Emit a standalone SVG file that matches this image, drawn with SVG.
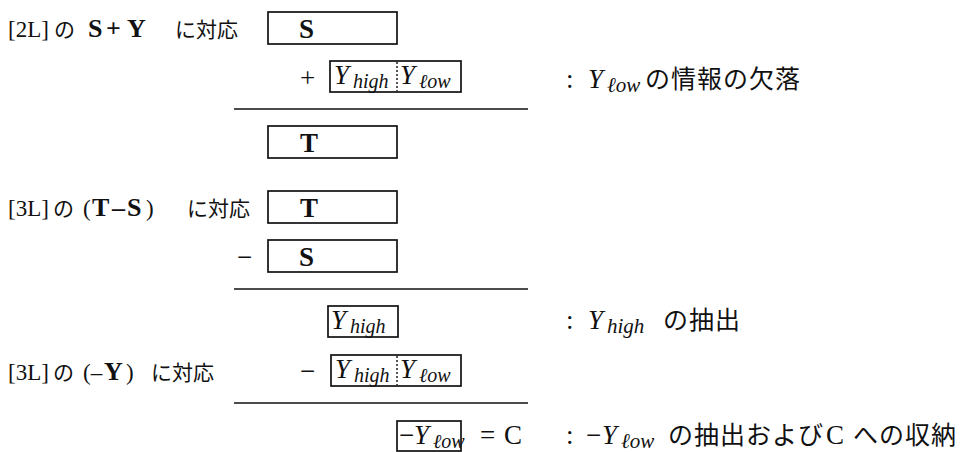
<svg xmlns="http://www.w3.org/2000/svg" width="961" height="452" viewBox="0 0 961 452">
<style>
.bg{fill:#ffffff}
.box{fill:none;stroke:#111;stroke-width:1.7}
.div{stroke:#111;stroke-width:1.4;stroke-dasharray:2,2}
.rule{stroke:#111;stroke-width:1.7}
.jp{font-family:"Noto Sans CJK JP",sans-serif;font-size:21px;fill:#111}
.jpr{font-family:"Noto Sans CJK JP",sans-serif;font-size:25px;letter-spacing:1px;fill:#111}
.rm{font-family:"Liberation Serif","DejaVu Serif",serif;font-size:23px;fill:#111}
.bd{font-family:"Liberation Serif","DejaVu Serif",serif;font-size:26px;font-weight:bold;fill:#111}
.bx{font-family:"Liberation Serif","DejaVu Serif",serif;font-size:27px;font-weight:bold;fill:#111}
.it{font-family:"Liberation Serif","DejaVu Serif",serif;font-size:27px;font-style:italic;fill:#111}
.sub{font-family:"Liberation Serif","DejaVu Serif",serif;font-size:20px;font-style:italic;fill:#111}
.subr{font-family:"Liberation Serif","DejaVu Serif",serif;font-size:21px;font-style:italic;fill:#111}
.op{font-family:"Liberation Serif","DejaVu Serif",serif;font-size:27px;fill:#111}
</style>
<rect class="bg" x="0" y="0" width="961" height="452"/>

<g id="label1">
<text class="rm" x="8" y="37">[2L]</text>
<text class="jp" x="54" y="37">の</text>
<text class="bd" x="88" y="37">S</text>
<text class="bd" x="106" y="37">+</text>
<text class="bd" x="127" y="37">Y</text>
<text class="jp" x="175" y="37">に対応</text>
</g>
<g id="boxS1">
<rect class="box" x="268" y="12" width="129" height="32"/>
<text class="bx" x="299" y="38">S</text>
</g>
<g id="plus1"><text class="op" x="300" y="87">+</text></g>
<g id="boxY1">
<rect class="box" x="330" y="61" width="131" height="31"/>
<line class="div" x1="397" y1="62" x2="397" y2="91"/>
<text class="it" x="334" y="84">Y</text><text class="sub" x="353" y="88">high</text>
<text class="it" x="400" y="84">Y</text><text class="sub" x="419" y="88">ℓow</text>
</g>
<g id="note1">
<text class="op" x="566" y="88">:</text>
<text class="it" x="588" y="88">Y</text><text class="subr" x="607" y="92">ℓow</text>
<text class="jpr" x="645" y="88">の情報の欠落</text>
</g>

<g id="boxT1">
<rect class="box" x="268" y="126" width="129" height="32"/>
<text class="bx" x="300" y="152">T</text>
</g>

<g id="label2">
<text class="rm" x="8" y="216">[3L]</text>
<text class="jp" x="53" y="216">の</text>
<text class="rm" x="83" y="216">(</text>
<text class="bd" x="92" y="216">T</text>
<text class="bd" x="112" y="216">–</text>
<text class="bd" x="127" y="216">S</text>
<text class="rm" x="146" y="216">)</text>
<text class="jp" x="187" y="216">に対応</text>
</g>
<g id="boxT2">
<rect class="box" x="268" y="191" width="129" height="32"/>
<text class="bx" x="300" y="217">T</text>
</g>
<g id="minus2"><text class="op" x="237" y="266">−</text></g>
<g id="boxS2">
<rect class="box" x="268" y="240" width="129" height="32"/>
<text class="bx" x="299" y="266">S</text>
</g>

<g id="boxYh">
<rect class="box" x="328" y="306" width="70" height="31"/>
<text class="it" x="331" y="329">Y</text><text class="sub" x="350" y="333">high</text>
</g>
<g id="note2">
<text class="op" x="566" y="329">:</text>
<text class="it" x="588" y="329">Y</text><text class="subr" x="607" y="333">high</text>
<text class="jpr" x="663" y="329">の抽出</text>
</g>

<g id="label3">
<text class="rm" x="8" y="380">[3L]</text>
<text class="jp" x="53" y="380">の</text>
<text class="rm" x="83" y="380">(–</text>
<text class="bd" x="104" y="380">Y</text>
<text class="rm" x="126" y="380">)</text>
<text class="jp" x="151" y="380">に対応</text>
</g>
<g id="minus3"><text class="op" x="300" y="380">−</text></g>
<g id="boxY2">
<rect class="box" x="331" y="355" width="130" height="31"/>
<line class="div" x1="397" y1="356" x2="397" y2="385"/>
<text class="it" x="335" y="378">Y</text><text class="sub" x="354" y="382">high</text>
<text class="it" x="400" y="378">Y</text><text class="sub" x="419" y="382">ℓow</text>
</g>

<g id="boxC">
<rect class="box" x="397" y="421" width="64" height="30"/>
<text class="op" x="399" y="444">−</text>
<text class="it" x="414" y="444">Y</text><text class="sub" x="433" y="448">ℓow</text>
</g>
<g id="eqC">
<text class="op" x="480" y="444">=</text>
<text class="op" x="504" y="444">C</text>
</g>
<g id="note3">
<text class="op" x="566" y="444">:</text>
<text class="op" x="586" y="444">−</text>
<text class="it" x="602" y="444">Y</text><text class="subr" x="621" y="448">ℓow</text>
<text class="jpr" x="668" y="444">の抽出および</text>
<text class="op" x="826" y="444">C</text>
<text class="jpr" x="853" y="444">への収納</text>
</g>

<g id="connectors">
<line class="rule" x1="234" y1="109" x2="528" y2="109"/>
<line class="rule" x1="234" y1="289" x2="528" y2="289"/>
<line class="rule" x1="234" y1="403" x2="528" y2="403"/>
</g>
</svg>
